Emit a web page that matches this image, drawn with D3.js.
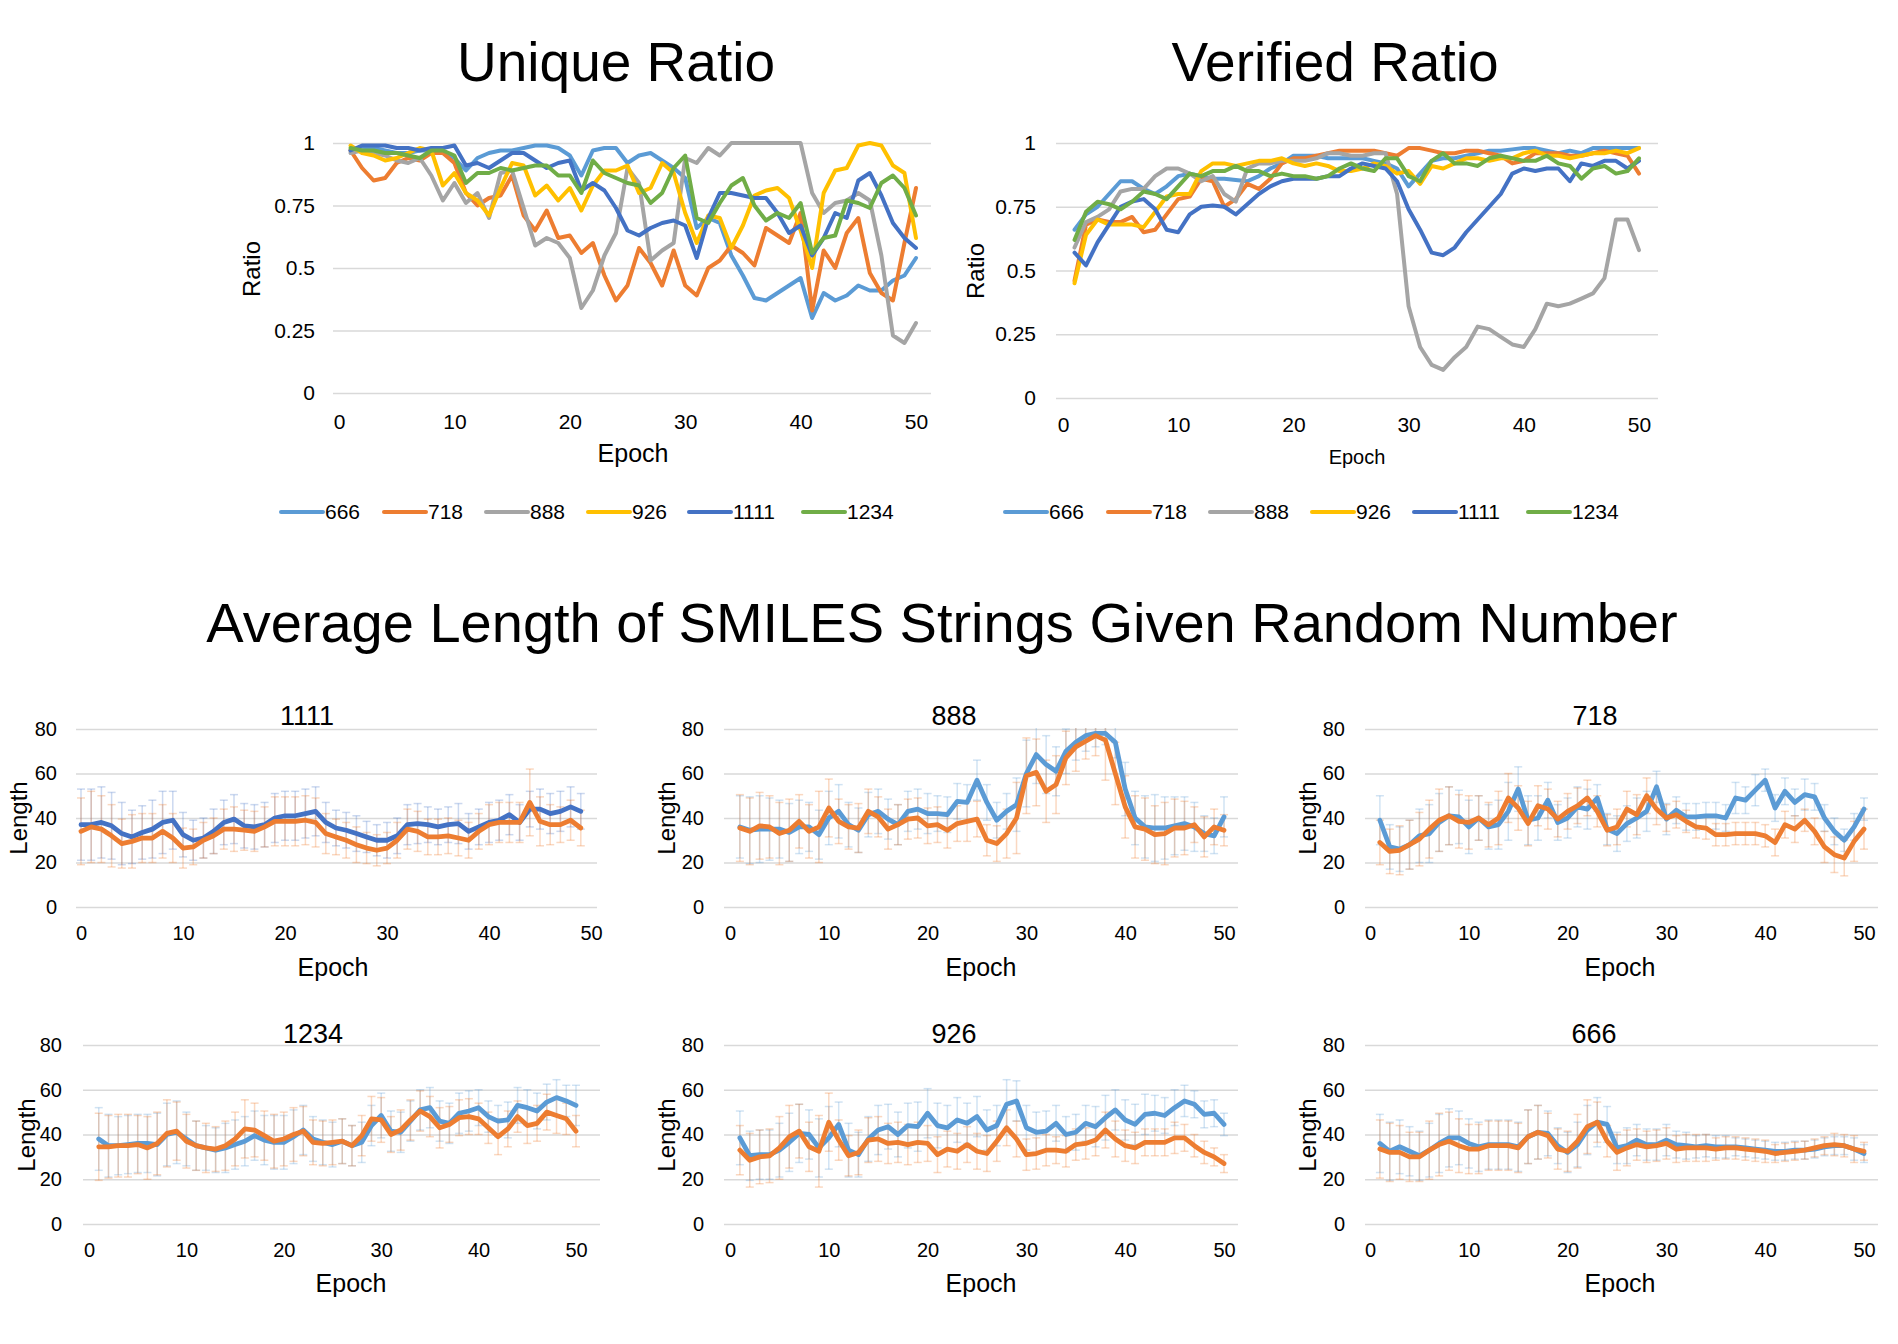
<!DOCTYPE html>
<html><head><meta charset="utf-8">
<script src="https://cdn.jsdelivr.net/npm/d3@7"></script>
<style>html,body{margin:0;padding:0;background:#fff;} svg{display:block;font-family:"Liberation Sans",Arial,Helvetica,sans-serif;}</style>
</head><body><svg id="c" width="1898" height="1344"></svg>
<script>
// ---------------- DATA ----------------
const seeds = ["666", "718", "888", "926", "1111", "1234"];
const ratioTicks = [0, 0.25, 0.5, 0.75, 1];
const epochTicks = [0, 10, 20, 30, 40, 50];
const lengthTicks = [0, 20, 40, 60, 80];

// Unique ratio, epochs 1..50
const uniq666 = [0.97,0.98,0.98,0.97,0.96,0.96,0.97,0.97,0.96,0.94, 0.89,0.94,0.96,0.97,0.97,0.98,0.99,0.99,0.98,0.95, 0.87,0.97,0.98,0.98,0.92,0.95,0.96,0.93,0.90,0.86, 0.66,0.70,0.68,0.55,0.47,0.38,0.37,0.40,0.43,0.46, 0.30,0.40,0.37,0.39,0.43,0.41,0.41,0.45,0.47,0.54];
const uniq718 = [0.97,0.90,0.85,0.86,0.92,0.94,0.93,0.96,0.96,0.92, 0.80,0.75,0.78,0.79,0.87,0.71,0.65,0.73,0.62,0.63, 0.56,0.60,0.47,0.37,0.43,0.58,0.52,0.43,0.57,0.43, 0.39,0.50,0.53,0.59,0.56,0.51,0.66,0.63,0.60,0.72, 0.33,0.57,0.50,0.64,0.70,0.48,0.40,0.37,0.60,0.82];
const uniq888 = [0.96,0.97,0.96,0.95,0.93,0.92,0.94,0.87,0.77,0.84, 0.76,0.80,0.70,0.88,0.89,0.74,0.59,0.62,0.60,0.54, 0.34,0.41,0.55,0.64,0.90,0.84,0.53,0.57,0.60,0.94, 0.92,0.98,0.95,1.00,1.00,1.00,1.00,1.00,1.00,1.00, 0.80,0.72,0.76,0.77,0.80,0.77,0.55,0.23,0.20,0.28];
const uniq926 = [0.99,0.96,0.95,0.93,0.94,0.96,0.98,0.97,0.83,0.88, 0.80,0.77,0.71,0.82,0.92,0.91,0.79,0.83,0.77,0.82, 0.73,0.83,0.89,0.89,0.91,0.80,0.82,0.92,0.88,0.72, 0.60,0.71,0.70,0.58,0.67,0.79,0.81,0.82,0.78,0.65, 0.50,0.80,0.89,0.90,0.99,1.00,0.99,0.91,0.88,0.62];
const uniq1111 = [0.97,0.99,0.99,0.99,0.98,0.98,0.97,0.98,0.98,0.99, 0.91,0.92,0.90,0.93,0.96,0.96,0.93,0.90,0.92,0.93, 0.81,0.84,0.81,0.74,0.65,0.63,0.66,0.68,0.69,0.67, 0.54,0.70,0.80,0.80,0.79,0.78,0.78,0.72,0.64,0.67, 0.55,0.62,0.72,0.70,0.85,0.88,0.79,0.68,0.62,0.58];
const uniq1234 = [0.98,0.97,0.97,0.96,0.96,0.95,0.94,0.97,0.97,0.95, 0.84,0.88,0.88,0.90,0.89,0.90,0.91,0.91,0.87,0.87, 0.80,0.93,0.88,0.86,0.84,0.83,0.76,0.80,0.90,0.95, 0.70,0.68,0.76,0.83,0.86,0.75,0.69,0.72,0.70,0.76, 0.56,0.62,0.63,0.77,0.76,0.74,0.84,0.87,0.82,0.71];

// Verified ratio, epochs 1..50
const verif666 = [0.66,0.72,0.75,0.80,0.85,0.85,0.82,0.80,0.83,0.87, 0.88,0.87,0.86,0.86,0.855,0.85,0.87,0.90,0.92,0.95, 0.95,0.95,0.94,0.94,0.94,0.94,0.93,0.92,0.90,0.83, 0.88,0.93,0.94,0.94,0.95,0.96,0.97,0.97,0.975,0.98, 0.98,0.97,0.96,0.97,0.96,0.98,0.98,0.98,0.98,0.98];
const verif718 = [0.46,0.68,0.70,0.69,0.69,0.71,0.65,0.66,0.72,0.78, 0.79,0.86,0.85,0.75,0.78,0.84,0.82,0.86,0.92,0.94, 0.94,0.95,0.96,0.97,0.97,0.97,0.97,0.96,0.95,0.98, 0.98,0.97,0.96,0.96,0.97,0.97,0.96,0.95,0.92,0.93, 0.96,0.96,0.96,0.95,0.95,0.96,0.97,0.96,0.95,0.88];
const verif888 = [0.59,0.69,0.71,0.74,0.81,0.82,0.82,0.87,0.90,0.90, 0.88,0.85,0.87,0.80,0.77,0.90,0.92,0.92,0.93,0.93, 0.93,0.94,0.96,0.96,0.95,0.95,0.96,0.96,0.80,0.36, 0.20,0.13,0.11,0.16,0.20,0.28,0.27,0.24,0.21,0.20, 0.27,0.37,0.36,0.37,0.39,0.41,0.47,0.70,0.70,0.58];
const verif926 = [0.45,0.64,0.70,0.68,0.68,0.68,0.67,0.73,0.79,0.80, 0.80,0.89,0.92,0.92,0.91,0.92,0.93,0.93,0.94,0.92, 0.91,0.92,0.91,0.89,0.89,0.90,0.92,0.91,0.88,0.89, 0.84,0.91,0.90,0.92,0.94,0.94,0.93,0.94,0.94,0.96, 0.97,0.95,0.95,0.94,0.95,0.96,0.96,0.97,0.96,0.98];
const verif1111 = [0.57,0.52,0.61,0.68,0.75,0.77,0.78,0.74,0.66,0.65, 0.72,0.75,0.755,0.75,0.72,0.76,0.80,0.83,0.85,0.86, 0.86,0.86,0.87,0.87,0.90,0.92,0.91,0.90,0.85,0.74, 0.66,0.57,0.56,0.59,0.65,0.70,0.75,0.80,0.88,0.90, 0.89,0.90,0.90,0.85,0.92,0.91,0.93,0.93,0.90,0.93];
const verif1234 = [0.62,0.73,0.77,0.76,0.74,0.77,0.81,0.80,0.78,0.83, 0.88,0.87,0.89,0.89,0.91,0.89,0.89,0.87,0.88,0.87, 0.87,0.86,0.87,0.90,0.92,0.90,0.89,0.94,0.94,0.87, 0.85,0.93,0.96,0.92,0.92,0.91,0.94,0.95,0.94,0.93, 0.93,0.95,0.92,0.91,0.86,0.90,0.91,0.88,0.89,0.94];

// Average SMILES length per seed: series A (blue), series B (orange) with error bars
// 1111 uses epochs 0..49, the others 1..50
const len1111A = [37,37,38,36.5,33,31.5,33.5,35,38,39, 32.5,30,31,34,38,39.5,36.5,36,37,40, 41,41,42,43,38,35.5,34.5,33,31.5,30, 30,32,37,37.5,37,36,37,37.5,34,36, 38,39,41.5,38,44,44,42,43,45,43];
const len1111B = [34,36,35,32,28.5,29.5,31,31,34,31, 26.5,27,30,32,35,35,34.5,34,36,38.5, 38.5,38.5,39,38,33,31.5,30,28,26.5,25.5, 26.5,30,35,34,31.5,31.5,32,31,30,34, 37,38,38,38,47,38.5,37,37,39,35.5];
const err1111A = [16,16,16,15,14,12,12,13,14,13, 10,9,9,10,10,11,10,10,10,11, 11,11,11,11,9,8,8,8,7,7, 8,8,9,9,8,8,8,9,8,8, 9,9,9,8,8,9,9,9,9,8];
const err1111B = [15,16,15,14,11,12,11,11,12,11, 9,8,8,8,9,10,9,9,9,11, 11,11,11,11,9,8,8,8,7,7, 7,8,9,9,8,8,8,8,8,8, 9,9,9,9,15,11,9,8,9,8];

const len888A = [36,34.5,35,35,35,33.5,36,36,32.5,40, 43,37,34.5,41.5,43,39.5,37,43,44,42, 42,41.5,47.5,47,57,47,39,43,46,60, 68.5,64,61,70,74,77,78,78,74,53, 40,36,35.5,35.5,36.5,37.5,36,33,32,40.5];
const len888B = [35.5,34,36.5,36,33,34.5,38.5,34,36,44.5, 38.5,36,35.5,43,40.5,35,37,39.5,40,36.5, 37,34.5,37.5,38.5,39.5,30,28.5,33,40,59, 60.5,52,55,67,72,74.5,77,75,60,45, 36,35,32.5,33,35.5,35.5,37,31.5,36,34.5];
const err888A = [14,15,15,14,13,13,12,11,11,12, 12,10,10,10,10,9,9,9,9,9, 8,8,8,8,9,8,8,8,12,15, 13,13,11,10,8,7,6,5,7,12, 12,14,15,14,13,12,11,8,8,9];
const err888B = [15,15,15,14,14,14,12,12,16,13, 10,10,11,10,9,9,9,9,9,8, 8,8,8,9,8,7,8,11,16,17, 15,14,13,12,11,8,9,18,14,14, 14,14,13,14,13,12,8,9,8,7];

const len718A = [39,27,26,28,32,33,38,41,40.5,36, 40,36,37,43,53,39,40,48,38,40, 45,44,49,35,33,37.5,40,43,54,39.5, 43.5,40.5,40.5,41,41,40,49,48,52.5,57, 44.5,52,47,50.5,49.5,40,34,30,36,44];
const len718B = [29,25,25.5,28,30.5,35,39,41,38.5,38, 40,37,40,49,44.5,37.5,45.5,44,39.5,43, 45.5,49,43,34.5,36,44,41.5,50,44,40, 41.5,38.5,36,35.5,32.5,32.5,33,33,33,32, 29,37,35,39,34,27,23.5,22,29.5,35];
const err718A = [11,10,10,11,12,13,13,13,12,12, 10,10,11,13,10,11,10,8,8,9, 9,9,6,7,8,8,9,9,7,7, 6,6,6,6,6,6,7,6,7,5, 6,6,6,7,6,6,6,5,6,5];
const err718B = [10,10,11,11,12,13,14,13,12,12, 10,10,12,11,10,10,9,9,8,8, 8,8,7,7,8,8,9,8,7,6, 6,5,5,5,5,5,5,5,5,5, 6,6,6,5,6,7,8,8,9,9];

const len1234A = [38,35,35,35.5,36,36,35.5,40,41,38, 35,34,33,34,35.5,37,39.5,37.5,36.5,36.5, 39,42,38,36.5,35.5,37,35,36.5,44,48.5, 41.5,41,46,51,52,46,45,49.5,50.5,52, 48,46,46.5,53,52,50.5,54.5,56.5,55,53];
const len1234B = [34.5,34.5,35,35,35.5,34,36,40.5,41.5,37, 35,34,33.5,35,38,42.5,42,39.5,37,38, 40,41.5,36.5,36,36.5,37,35,39.5,47,46.5, 40,42,46.5,50.5,48,43,44.5,47.5,48,47, 43,39,42.5,48,44,45,50,48.5,47,41.5];
const err1234A = [14,14,13,13,13,13,14,14,14,12, 11,10,10,11,11,11,11,11,12,12, 12,11,10,10,10,10,9,9,9,10, 9,9,9,9,9,9,9,9,9,8, 7,7,8,8,8,8,8,8,7,9];
const err1234B = [15,14,14,14,13,14,14,15,13,12, 11,11,10,11,12,13,12,11,12,12, 12,11,10,10,10,10,9,9,10,10, 8,9,9,9,9,9,8,8,8,7, 7,8,8,7,8,8,8,8,7,7];

const len926A = [38.5,30.5,31,31,33,36.5,40.5,40,34,38.5, 44.5,33,31,38,42,43.5,40,44,43.5,49.5, 44,43,46.5,45,48,42,44,53.5,55,43, 41,41.5,45,40,41,45,43.5,47.5,51,46.5, 44.5,49,49.5,48.5,52,55,53.5,49,49.5,44.5];
const len926B = [33,28.5,30,30.5,34,39,41.5,34.5,32.5,45.5, 37.5,30.5,32,37.5,38,36,36.5,35.5,36.5,36, 31,33.5,32.5,35.5,32.5,31.5,37,43,38,31, 31.5,33,33,32.5,35.5,36,37.5,42,38,35, 34,36.5,36.5,36.5,38.5,38.5,35,32,30,27];
const err926A = [12,11,11,11,12,13,13,11,13,14, 10,12,10,10,11,10,10,10,11,11, 10,10,10,9,9,9,9,11,9,10, 9,9,8,8,8,8,9,10,9,9, 9,9,8,8,8,7,6,6,6,5];
const err926B = [11,12,12,12,14,14,12,11,16,13, 9,9,10,10,10,9,9,9,9,8, 8,8,8,8,8,8,9,8,8,7, 7,7,6,7,7,7,7,8,8,7, 7,6,6,6,7,6,5,5,4,4];

const len666A = [36,32.5,34.5,32.5,30.5,33,36,38.5,38.5,36, 34.5,35.5,35.5,35.5,34.5,39,41,40.5,35,32, 35.5,42,45.5,44.5,34,35,37.5,35.5,35.5,37.5, 35.5,35,34.5,35,34.5,34.5,34.5,34,33.5,33, 32.5,32.5,33,33,33.5,34.5,35,35,33.5,31.5];
const len666B = [33.5,32,32,30,30,33,35.5,37,35,33.5, 33.5,35,35,35,34,39,41,39.5,33.5,32.5, 37,43.5,45.5,37,32,34,35.5,34.5,35,36, 33.5,34,34,34,33.5,34,34,33.5,33,32.5, 31.5,32,32.5,33,34,35,35.5,35,33.5,32.5];
const err666A = [13,13,12,11,11,12,13,13,12,11, 11,11,11,11,11,12,12,10,8,9, 10,11,11,8,7,8,7,7,7,7, 6,6,5,5,5,5,4,4,4,4, 4,4,4,4,4,4,4,4,5,4];
const err666B = [13,13,12,11,11,13,14,13,12,11, 11,11,11,11,11,12,12,10,9,9, 12,12,9,7,8,8,7,7,7,7, 6,6,6,6,5,5,5,5,5,5, 4,4,4,4,4,4,5,5,6,4];

// ---------------- STYLE / LAYOUT ----------------
const seedColor = {"666":"#5B9BD5","718":"#ED7D31","888":"#A5A5A5","926":"#FFC000","1111":"#4472C4","1234":"#70AD47"};
const uniqueData = {"666":uniq666,"718":uniq718,"888":uniq888,"926":uniq926,"1111":uniq1111,"1234":uniq1234};
const verifData = {"666":verif666,"718":verif718,"888":verif888,"926":verif926,"1111":verif1111,"1234":verif1234};

const svg = d3.select("#c");
svg.append("rect").attr("width",1898).attr("height",1344).attr("fill","#fff");
const defs = svg.append("defs");
const GRID = "#D9D9D9";

function addText(x, y, txt, size, opts={}) {
  const t = svg.append("text").attr("x", x).attr("y", y).attr("font-size", size)
    .attr("fill", "#000").attr("text-anchor", opts.anchor || "middle").text(txt);
  if (opts.dy) t.attr("dy", opts.dy);
  if (opts.rotate) t.attr("transform", `rotate(-90,${x},${y})`);
  return t;
}

function ratioChart(cfg, dataMap) {
  const x = d3.scaleLinear().domain([0, 50]).range([cfg.x0, cfg.x50]);
  const y = d3.scaleLinear().domain([0, 1]).range([cfg.yb, cfg.yt]);
  const yAxis = svg.append("g").attr("transform", `translate(${cfg.gridL},0)`)
    .call(d3.axisLeft(y).tickValues(ratioTicks).tickFormat(d => String(d))
      .tickSize(-(cfg.gridR - cfg.gridL)).tickPadding(cfg.gridL - cfg.tickRight));
  yAxis.select(".domain").remove();
  yAxis.selectAll(".tick line").attr("stroke", GRID).attr("stroke-width", 1.6);
  yAxis.selectAll(".tick text").attr("font-size", 21).attr("fill", "#000").attr("font-family", null);
  const xAxis = svg.append("g").attr("transform", `translate(0,${cfg.xLabY})`)
    .call(d3.axisBottom(x).tickValues(epochTicks).tickSize(0));
  xAxis.select(".domain").remove();
  xAxis.selectAll(".tick text").attr("y", 0).attr("dy", "0.35em").attr("font-size", 21).attr("fill", "#000").attr("font-family", null);

  const line = d3.line().x((d, i) => x(i + 1)).y(d => y(d));
  seeds.forEach(s => {
    svg.append("path").attr("d", line(dataMap[s])).attr("fill", "none")
      .attr("stroke", seedColor[s]).attr("stroke-width", 4)
      .attr("stroke-linejoin", "round").attr("stroke-linecap", "round");
  });
  addText(cfg.titleX, 81, cfg.title, 55);
  addText(cfg.epochX, cfg.epochY, "Epoch", cfg.epochSize, {dy: "0.35em"});
  addText(cfg.ratioX, cfg.ratioY, "Ratio", 24, {dy: "0.35em", rotate: true});
  // legend
  cfg.legendX.forEach((lx, i) => {
    const s = seeds[i];
    svg.append("line").attr("x1", lx).attr("x2", lx + 42).attr("y1", 512).attr("y2", 512)
      .attr("stroke", seedColor[s]).attr("stroke-width", 4).attr("stroke-linecap", "round");
    addText(lx + 44, 512, s, 21, {anchor: "start", dy: "0.35em"});
  });
}

ratioChart({x0:339, x50:916, yt:143, yb:393, gridL:333, gridR:931, tickRight:315, xLabY:422,
  title:"Unique Ratio", titleX:616, epochX:633, epochY:453, epochSize:25, ratioX:252, ratioY:269,
  legendX:[281, 384, 486, 588, 689, 803]}, uniqueData);
ratioChart({x0:1063, x50:1639, yt:143, yb:398, gridL:1056, gridR:1658, tickRight:1036, xLabY:425,
  title:"Verified Ratio", titleX:1335, epochX:1357, epochY:457, epochSize:20, ratioX:976, ratioY:271,
  legendX:[1005, 1108, 1210, 1312, 1414, 1528]}, verifData);

addText(942, 642, "Average Length of SMILES Strings Given Random Number", 56);

// ---------------- Length panels ----------------
const panels = [
  {name:"1111", a:len1111A, b:len1111B, ea:err1111A, eb:err1111B, start:0, colA:"#4472C4"},
  {name:"888",  a:len888A,  b:len888B,  ea:err888A,  eb:err888B,  start:1, colA:"#5B9BD5"},
  {name:"718",  a:len718A,  b:len718B,  ea:err718A,  eb:err718B,  start:1, colA:"#5B9BD5"},
  {name:"1234", a:len1234A, b:len1234B, ea:err1234A, eb:err1234B, start:1, colA:"#5B9BD5"},
  {name:"926",  a:len926A,  b:len926B,  ea:err926A,  eb:err926B,  start:1, colA:"#5B9BD5"},
  {name:"666",  a:len666A,  b:len666B,  ea:err666A,  eb:err666B,  start:1, colA:"#5B9BD5"}
];
const panelLayout = [
  {x0:81,  x50:591,  gridL:76,   gridR:597,  yt:729,  yb:907,  tickRight:57,   xLabY:933,  titleX:307,  titleY:725,  epochX:333,  epochY:967,  lenX:19,   lenY:818},
  {x0:730, x50:1224, gridL:724,  gridR:1238, yt:729,  yb:907,  tickRight:704,  xLabY:933,  titleX:954,  titleY:725,  epochX:981,  epochY:967,  lenX:667,  lenY:818},
  {x0:1370,x50:1864, gridL:1365, gridR:1878, yt:729,  yb:907,  tickRight:1345, xLabY:933,  titleX:1595, titleY:725,  epochX:1620, epochY:967,  lenX:1308, lenY:818},
  {x0:89,  x50:576,  gridL:83,   gridR:600,  yt:1045, yb:1224, tickRight:62,   xLabY:1250, titleX:313,  titleY:1043, epochX:351,  epochY:1283, lenX:27,   lenY:1135},
  {x0:730, x50:1224, gridL:724,  gridR:1238, yt:1045, yb:1224, tickRight:704,  xLabY:1250, titleX:954,  titleY:1043, epochX:981,  epochY:1283, lenX:667,  lenY:1135},
  {x0:1370,x50:1864, gridL:1365, gridR:1878, yt:1045, yb:1224, tickRight:1345, xLabY:1250, titleX:1594, titleY:1043, epochX:1620, epochY:1283, lenX:1308, lenY:1135}
];

panels.forEach((p, k) => {
  const L = panelLayout[k];
  const x = d3.scaleLinear().domain([0, 50]).range([L.x0, L.x50]);
  const y = d3.scaleLinear().domain([0, 80]).range([L.yb, L.yt]);
  const yAxis = svg.append("g").attr("transform", `translate(${L.gridL},0)`)
    .call(d3.axisLeft(y).tickValues(lengthTicks).tickSize(-(L.gridR - L.gridL)).tickPadding(L.gridL - L.tickRight));
  yAxis.select(".domain").remove();
  yAxis.selectAll(".tick line").attr("stroke", GRID).attr("stroke-width", 1.6);
  yAxis.selectAll(".tick text").attr("font-size", 20).attr("fill", "#000").attr("font-family", null);
  const xAxis = svg.append("g").attr("transform", `translate(0,${L.xLabY})`)
    .call(d3.axisBottom(x).tickValues(epochTicks).tickSize(0));
  xAxis.select(".domain").remove();
  xAxis.selectAll(".tick text").attr("y", 0).attr("dy", "0.35em").attr("font-size", 20).attr("fill", "#000").attr("font-family", null);

  const clipId = "clip" + k;
  defs.append("clipPath").attr("id", clipId).append("rect")
    .attr("x", L.gridL - 10).attr("y", L.yt - 1).attr("width", L.gridR - L.gridL + 20).attr("height", L.yb - L.yt + 2);
  const plot = svg.append("g").attr("clip-path", `url(#${clipId})`);

  const drawErr = (vals, errs, color, op) => {
    const g = plot.append("g").attr("stroke", color).attr("stroke-opacity", op).attr("stroke-width", 1.5);
    vals.forEach((v, i) => {
      const xx = x(i + p.start), y1 = y(v - errs[i]), y2 = y(v + errs[i]);
      g.append("line").attr("x1", xx).attr("x2", xx).attr("y1", y1).attr("y2", y2);
      g.append("line").attr("x1", xx - 4).attr("x2", xx + 4).attr("y1", y1).attr("y2", y1);
      g.append("line").attr("x1", xx - 4).attr("x2", xx + 4).attr("y1", y2).attr("y2", y2);
    });
  };
  drawErr(p.a, p.ea, p.colA, 0.28);
  drawErr(p.b, p.eb, "#ED7D31", 0.3);
  const line = d3.line().x((d, i) => x(i + p.start)).y(d => y(d));
  svg.append("path").attr("d", line(p.a)).attr("fill", "none").attr("stroke", p.colA)
    .attr("stroke-width", 4.8).attr("stroke-linejoin", "round").attr("stroke-linecap", "round");
  svg.append("path").attr("d", line(p.b)).attr("fill", "none").attr("stroke", "#ED7D31")
    .attr("stroke-width", 4.8).attr("stroke-linejoin", "round").attr("stroke-linecap", "round");

  addText(L.titleX, L.titleY, p.name, 27);
  addText(L.epochX, L.epochY, "Epoch", 25, {dy: "0.35em"});
  addText(L.lenX, L.lenY, "Length", 24, {dy: "0.35em", rotate: true});
});
</script>
</body></html>
